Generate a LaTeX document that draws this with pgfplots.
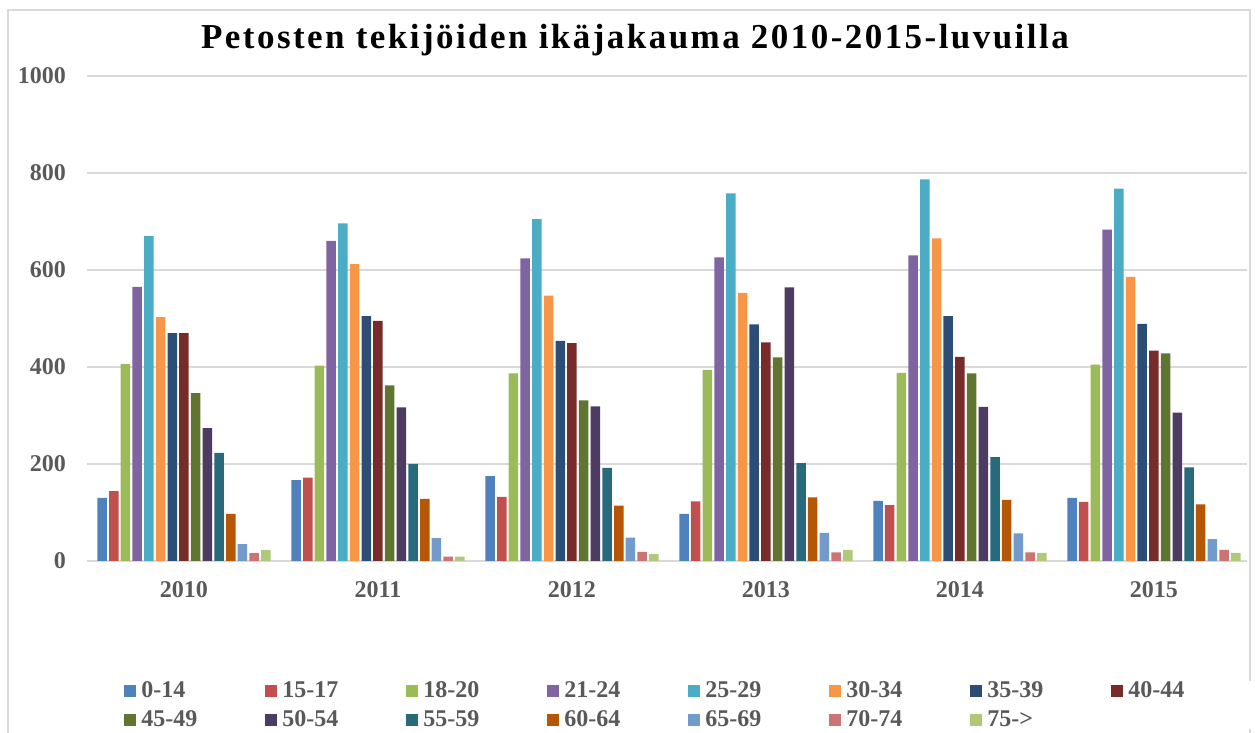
\documentclass[border=0pt]{standalone}
\usepackage{fontspec}
\setmainfont{Liberation Serif}
\newfontfamily\titlefont[LetterSpace=7]{Liberation Serif}
\usepackage{pgfplots}
\usepackage{pgfplotstable}
\pgfplotsset{compat=1.18}

\definecolor{c1}{HTML}{4F81BD}
\definecolor{c2}{HTML}{C0504D}
\definecolor{c3}{HTML}{9BBB59}
\definecolor{c4}{HTML}{8064A2}
\definecolor{c5}{HTML}{4BACC6}
\definecolor{c6}{HTML}{F79646}
\definecolor{c7}{HTML}{2C4D75}
\definecolor{c8}{HTML}{772C2A}
\definecolor{c9}{HTML}{5F7530}
\definecolor{c10}{HTML}{4D3B62}
\definecolor{c11}{HTML}{276A7C}
\definecolor{c12}{HTML}{B65708}
\definecolor{c13}{HTML}{729ACA}
\definecolor{c14}{HTML}{CD7371}
\definecolor{c15}{HTML}{AFC97A}
\definecolor{txt}{HTML}{595959}
\definecolor{gridc}{HTML}{D9D9D9}

% age groups per year (2010..2015 at x = 0..5)
\pgfplotstableread{
x  g1  g2  g3  g4  g5  g6  g7  g8  g9  g10 g11 g12 g13 g14 g15
0  130 144 406 565 670 503 470 470 346 274 223 97  35  16  23
1  167 172 403 660 696 612 505 495 362 317 200 128 47  9   9
2  175 132 387 624 705 547 454 449 331 319 192 114 48  19  14
3  97  123 394 626 758 553 488 451 420 564 202 131 58  18  23
4  124 115 388 630 787 665 505 421 387 318 214 126 57  18  17
5  130 122 405 683 768 586 489 434 428 306 193 117 45  23  17
}\data

\newcommand{\legtxt}[1]{\hspace{2.5pt}\makebox[62pt][l]{#1}}

\begin{document}
\begin{tikzpicture}
\useasboundingbox (-43.5pt,-86pt) rectangle (584pt,280.5pt);
\draw[gridc, line width=1pt] (-39.5pt,-95pt) -- (-39.5pt,275.5pt) -- (581.5pt,275.5pt) -- (581.5pt,-95pt);
\begin{axis}[
    at={(0pt,0pt)}, anchor=south west,
    scale only axis,
    width=580pt, height=242.5pt,
    ybar=1.1pt, bar width=4.75pt,
    xmin=-0.5, xmax=5.48,
    ymin=0, ymax=1000,
    xtick=data,
    xticklabels={2010,2011,2012,2013,2014,2015},
    ytick={0,200,400,600,800,1000},
    major tick length=0pt,
    axis line style={draw=none},
    ymajorgrids=true,
    grid style={gridc, line width=1pt},
    /pgf/number format/assume math mode=true,
    /pgf/number format/1000 sep={},
    tick label style={font=\fontsize{12}{14}\selectfont\bfseries, text=txt},
    yticklabel style={xshift=-7pt},
    xticklabel style={yshift=-6.5pt},
    title={Petosten tekijöiden ikäjakauma 2010-2015-luvuilla},
    title style={at={(0.4724,1.049)}, anchor=center, font=\titlefont\fontsize{17.5}{20}\selectfont\bfseries},
    legend columns=8,
    legend style={at={(0,0)}, anchor=north west, xshift=18.5pt, yshift=-60pt,
        draw=none, inner sep=0pt, row sep=5pt,
        nodes={inner sep=0pt, anchor=west},
        font=\fontsize{12}{14}\selectfont\bfseries, text=txt},
    legend image code/.code={\fill[#1] (0pt,-3pt) rectangle (6pt,3pt);},
]
\addplot[fill=c1, draw=none] table[x=x,y=g1] {\data};
\addplot[fill=c2, draw=none] table[x=x,y=g2] {\data};
\addplot[fill=c3, draw=none] table[x=x,y=g3] {\data};
\addplot[fill=c4, draw=none] table[x=x,y=g4] {\data};
\addplot[fill=c5, draw=none] table[x=x,y=g5] {\data};
\addplot[fill=c6, draw=none] table[x=x,y=g6] {\data};
\addplot[fill=c7, draw=none] table[x=x,y=g7] {\data};
\addplot[fill=c8, draw=none] table[x=x,y=g8] {\data};
\addplot[fill=c9, draw=none] table[x=x,y=g9] {\data};
\addplot[fill=c10, draw=none] table[x=x,y=g10] {\data};
\addplot[fill=c11, draw=none] table[x=x,y=g11] {\data};
\addplot[fill=c12, draw=none] table[x=x,y=g12] {\data};
\addplot[fill=c13, draw=none] table[x=x,y=g13] {\data};
\addplot[fill=c14, draw=none] table[x=x,y=g14] {\data};
\addplot[fill=c15, draw=none] table[x=x,y=g15] {\data};
\legend{\legtxt{0-14},\legtxt{15-17},\legtxt{18-20},\legtxt{21-24},\legtxt{25-29},\legtxt{30-34},\legtxt{35-39},\legtxt{40-44},
        \legtxt{45-49},\legtxt{50-54},\legtxt{55-59},\legtxt{60-64},\legtxt{65-69},\legtxt{70-74},\legtxt{75->}}
\end{axis}
\end{tikzpicture}
\end{document}
